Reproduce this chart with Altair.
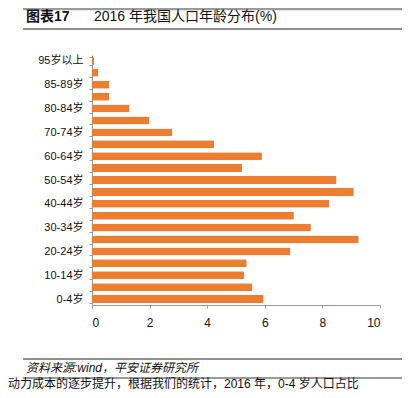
import json
import altair as alt
import pandas as pd

# Bars from top to bottom
labels = ["95岁以上", "", "85-89岁", "", "80-84岁", "", "70-74岁", "", "60-64岁", "",
          "50-54岁", "", "40-44岁", "", "30-34岁", "", "20-24岁", "", "10-14岁", "", "0-4岁"]
values = [0.07, 0.22, 0.60, 0.60, 1.30, 1.99, 2.79, 4.24, 5.90, 5.21, 8.49,
          9.09, 8.24, 7.01, 7.60, 9.26, 6.89, 5.37, 5.28, 5.57, 5.96]
x_ticks = [0, 2, 4, 6, 8, 10]

title_bold = "图表17"
title_text = "2016 年我国人口年龄分布(%)"
source_text = "资料来源:wind，平安证券研究所"
body_text = "动力成本的逐步提升，根据我们的统计，2016 年，0-4 岁人口占比"

df = pd.DataFrame({"idx": list(range(len(values))), "value": values})
FONT = "Liberation Sans, Arial, Noto Sans CJK SC"
label_expr = json.dumps(labels, ensure_ascii=False) + "[datum.value]"

bars = alt.Chart(df).mark_bar(color="#ED7D31", cornerRadius=1).encode(
    x=alt.X("value:Q", scale=alt.Scale(domain=[0, 10], nice=False),
            axis=alt.Axis(values=x_ticks, title=None, grid=False, domainColor="#9a9a9a",
                          tickColor="#9a9a9a", tickSize=3, labelFontSize=12, labelPadding=9,
                          labelColor="#111", labelFont=FONT)),
    y=alt.Y("idx:O", sort=None,
            scale=alt.Scale(paddingInner=0.33, paddingOuter=0.165),
            axis=alt.Axis(title=None, labelExpr=label_expr, tickBand="extent",
                          domainColor="#9a9a9a", tickColor="#9a9a9a", tickSize=3,
                          labelFontSize=11, labelPadding=6, labelColor="#111",
                          labelFont=FONT)),
)

one = pd.DataFrame({"a": [0]})

def hline(y, color, width):
    return alt.Chart(one).mark_rule(color=color, strokeWidth=width).encode(
        x=alt.value(-69), x2=alt.value(310), y=alt.value(y))

def text(x, y, s, size, weight="normal", style="normal"):
    return alt.Chart(one).mark_text(align="left", baseline="middle", fontSize=size,
                                    fontWeight=weight, fontStyle=style, font=FONT,
                                    color="#111").encode(
        x=alt.value(x), y=alt.value(y), text=alt.value(s))

chart = alt.layer(
    bars,
    hline(-46, "#9a9a9a", 2.5),
    hline(-26, "#222", 1.2),
    hline(304, "#222", 1.2),
    hline(323, "#9a9a9a", 2),
    text(-66, -38, title_bold, 14, weight="bold"),
    text(2, -38, title_text, 14),
    text(-66, 313, source_text, 12, style="italic"),
    text(-84, 329, body_text, 12),
).properties(
    width=288, height=250,
    autosize=alt.AutoSizeParams(type="none"),
    padding={"left": 84, "top": 47, "right": 22, "bottom": 85},
).configure_view(stroke=None)

chart.save("out.html", embed_options={"renderer": "svg", "actions": False})
